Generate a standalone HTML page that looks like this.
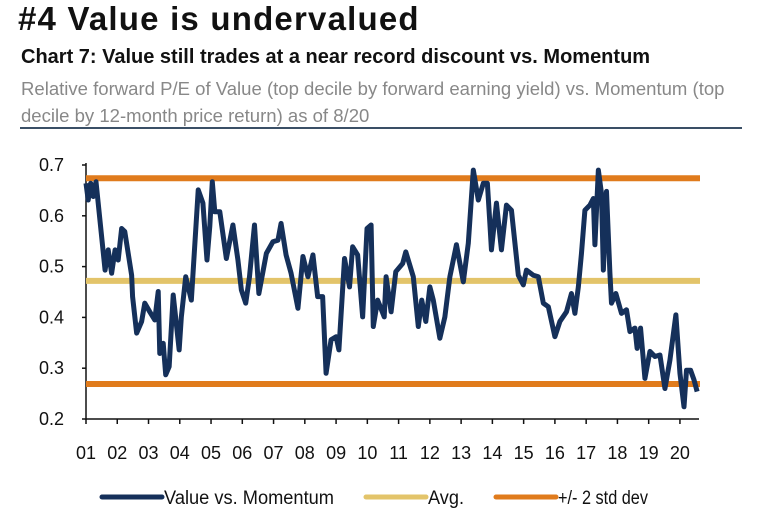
<!DOCTYPE html>
<html><head><meta charset="utf-8"><style>
body{margin:0;width:761px;height:521px;background:#fff;overflow:hidden;font-family:"Liberation Sans",sans-serif}
.t{position:absolute;white-space:nowrap}
</style></head><body>
<div class="t" style="left:18px;top:0px;font-size:33px;font-weight:bold;color:#111;letter-spacing:1.2px">#4 Value is undervalued</div>
<div class="t" style="left:21px;top:46px;font-size:20px;font-weight:bold;color:#111">Chart 7: Value still trades at a near record discount vs. Momentum</div>
<div class="t" style="left:21px;top:76px;font-size:18px;color:#888;line-height:27px;transform:scaleX(1.03);transform-origin:left">Relative forward P/E of Value (top decile by forward earning yield) vs. Momentum (top<br>decile by 12-month price return) as of 8/20</div>
<div style="position:absolute;left:20px;top:127px;width:722px;height:2px;background:#3a4f66"></div>
<svg id="c" width="761" height="521" style="position:absolute;left:0;top:0"></svg>
<script>
const yTicks=[0.2,0.3,0.4,0.5,0.6,0.7];
const yearLabels=["01","02","03","04","05","06","07","08","09","10","11","12","13","14","15","16","17","18","19","20"];
const avgValue=0.472;
const upperBand=0.674;
const lowerBand=0.269;
const seriesT=[0,.07,.15,.23,.32,.61,.71,.82,.93,1.03,1.14,1.24,1.46,1.49,1.62,1.78,1.88,2.04,2.2,2.31,2.36,2.47,2.55,2.66,2.79,2.98,3.05,3.19,3.37,3.59,3.74,3.87,3.96,4.04,4.12,4.28,4.49,4.70,4.86,4.97,5.11,5.23,5.39,5.53,5.77,5.98,6.14,6.24,6.40,6.56,6.78,6.94,7.10,7.26,7.41,7.57,7.68,7.84,8.0,8.09,8.27,8.43,8.53,8.69,8.85,8.99,9.12,9.19,9.33,9.54,9.6,9.76,9.91,10.13,10.23,10.47,10.63,10.74,10.87,11.0,11.11,11.32,11.48,11.64,11.85,12.07,12.23,12.39,12.55,12.71,12.84,12.92,12.97,13.13,13.29,13.45,13.61,13.83,13.99,14.09,14.31,14.47,14.63,14.79,15.0,15.16,15.37,15.53,15.64,15.75,15.85,15.96,16.12,16.23,16.28,16.39,16.49,16.55,16.65,16.76,16.81,16.95,17.13,17.29,17.4,17.56,17.63,17.74,17.88,18.04,18.2,18.36,18.52,18.68,18.87,19.0,19.13,19.21,19.34,19.45,19.55];
const seriesV=[.664,.631,.664,.638,.667,.493,.533,.487,.533,.513,.575,.569,.483,.441,.369,.392,.428,.411,.395,.451,.329,.349,.287,.303,.444,.336,.401,.480,.434,.651,.625,.513,.579,.667,.608,.608,.516,.582,.513,.454,.428,.480,.582,.447,.526,.549,.552,.585,.523,.487,.418,.520,.480,.523,.441,.441,.290,.356,.362,.336,.516,.460,.539,.523,.401,.575,.582,.382,.434,.401,.480,.411,.490,.506,.529,.480,.382,.434,.392,.460,.434,.359,.401,.480,.543,.470,.546,.690,.631,.664,.664,.585,.533,.625,.533,.621,.611,.483,.464,.493,.483,.480,.428,.421,.362,.392,.411,.447,.408,.460,.526,.611,.621,.634,.543,.690,.644,.493,.648,.487,.428,.447,.408,.415,.372,.379,.339,.379,.280,.333,.323,.326,.260,.316,.405,.290,.224,.296,.296,.277,.254];
const NS="http://www.w3.org/2000/svg";
const svg=document.getElementById('c');
const X=t=>86+31.26*t;
const Y=v=>419-(v-0.2)*508;
function mk(tag,at){const e=document.createElementNS(NS,tag);for(const k in at)e.setAttribute(k,at[k]);svg.appendChild(e);return e;}
let e;
e=mk('line',{x1:86,y1:Y(0.7)-2,x2:86,y2:420,stroke:'#111','stroke-width':1.5});


e=mk('line',{x1:86,y1:419,x2:699,y2:419,stroke:'#111','stroke-width':1.5});


yTicks.forEach(v=>{
 e=mk('line',{x1:82,y1:Y(v),x2:86,y2:Y(v),stroke:'#111','stroke-width':1.5});
 
 
 e=mk('text',{x:39,y:Y(v)+6,'font-size':18,fill:'#111','font-family':'Liberation Sans'});e.textContent=v.toFixed(1);
 
 
});
yearLabels.forEach((l,i)=>{
 e=mk('line',{x1:X(i),y1:419,x2:X(i),y2:424,stroke:'#111','stroke-width':1.5});
 
 
 e=mk('text',{x:X(i),y:459,'font-size':18,fill:'#111','text-anchor':'middle','font-family':'Liberation Sans'});e.textContent=l;
 
 
});
e=mk('line',{x1:86,y1:Y(avgValue),x2:700,y2:Y(avgValue),stroke:'#e3c46a','stroke-width':6});


[upperBand,lowerBand].forEach(v=>{
 e=mk('line',{x1:86,y1:Y(v),x2:700,y2:Y(v),stroke:'#e07b1c','stroke-width':6});
 
 
});
e=mk('polyline',{points:seriesT.map((t,i)=>X(t)+','+Y(seriesV[i])).join(' '),fill:'none',stroke:'#15305a','stroke-width':5,'stroke-linejoin':'round'});


const leg=[["Value vs. Momentum","#15305a",102,170],["Avg.","#e3c46a",366,36],["+/- 2 std dev","#e07b1c",496,90]];
leg.forEach(([n,c,x,w])=>{
 e=mk('line',{x1:x,y1:497,x2:x+60,y2:497,stroke:c,'stroke-width':5,'stroke-linecap':'round'});
 
 
 e=mk('text',{x:x+62,y:504,'font-size':19,fill:'#111','font-family':'Liberation Sans',textLength:w,lengthAdjust:'spacingAndGlyphs'});
 e.textContent=n;
 
 
});
</script>
</body></html>
